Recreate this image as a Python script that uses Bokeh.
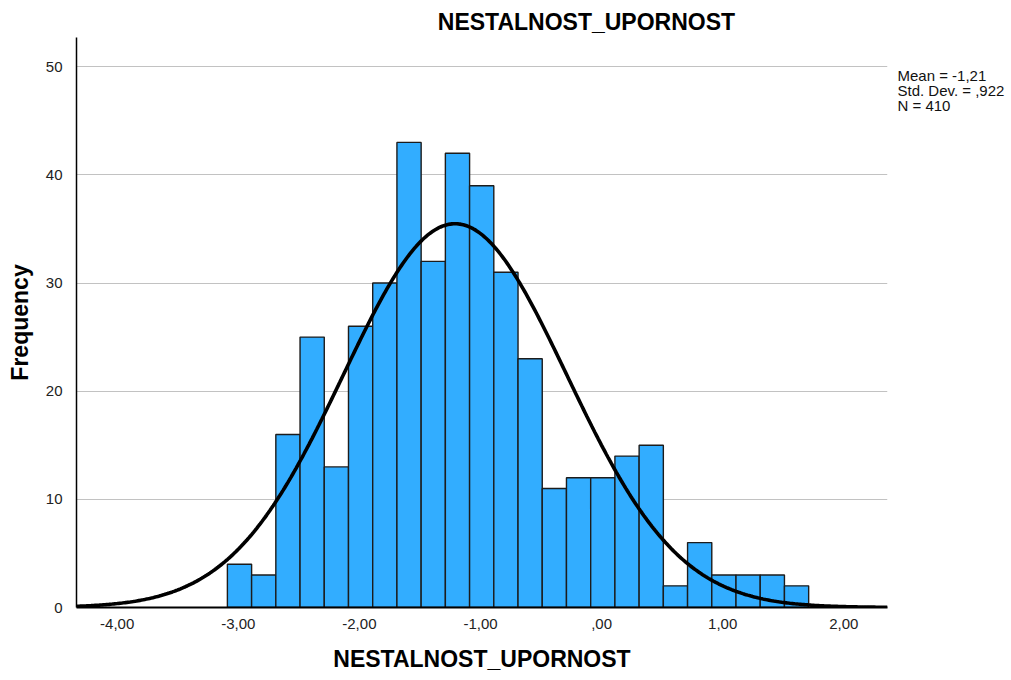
import numpy as np
from bokeh.plotting import figure
from bokeh.models import FixedTicker, Range1d, ColumnDataSource, LinearAxis
from bokeh.embed import file_html
from bokeh.resources import INLINE

# ---- data ----
title_text = "NESTALNOST_UPORNOST"
x_label = "NESTALNOST_UPORNOST"
y_label = "Frequency"
bin_left = [-3.09, -2.89, -2.69, -2.49, -2.29, -2.09, -1.89, -1.69, -1.49, -1.29,
            -1.09, -0.89, -0.69, -0.49, -0.29, -0.09, 0.11, 0.31, 0.51, 0.71,
            0.91, 1.11, 1.31, 1.51]
bin_width = 0.2
counts = [4, 3, 16, 25, 13, 26, 30, 43, 32, 42, 39, 31, 23, 11, 12, 12, 14, 15,
          2, 6, 3, 3, 3, 2]
mean = -1.21
std_dev = 0.922
n_total = 410
stats_lines = ["Mean = -1,21", "Std. Dev. = ,922", "N = 410"]
x_ticks = [-4, -3, -2, -1, 0, 1, 2]
x_tick_labels = ["-4,00", "-3,00", "-2,00", "-1,00", ",00", "1,00", "2,00"]
y_ticks = [0, 10, 20, 30, 40, 50]

# ---- layout ----
X0, X1 = -4.336, 2.361
Y0, Y1 = 0, 52.7
FONT = "Liberation Sans"
TITLE_X = -0.125                      # horizontal centre of the title (data units)
STATS_Y = [49.17, 47.78, 46.40]       # vertical centres of the statistics rows

p = figure(width=1011, height=680, output_backend="svg", toolbar_location=None,
           x_range=Range1d(X0, X1), y_range=Range1d(Y0, Y1),
           min_border_left=76, min_border_right=124, min_border_top=37,
           min_border_bottom=73)
p.outline_line_color = None
p.background_fill_color = "white"
p.border_fill_color = "white"

src = ColumnDataSource(dict(left=bin_left,
                            right=[b + bin_width for b in bin_left],
                            top=counts))
p.quad(left="left", right="right", top="top", bottom=0, source=src,
       fill_color="#32adff", line_color="#1c1c1c", line_width=1.4)

xs = np.linspace(X0, X1, 500)
ys = n_total * bin_width / (std_dev * np.sqrt(2 * np.pi)) * np.exp(-0.5 * ((xs - mean) / std_dev) ** 2)
p.line(xs, ys, line_color="black", line_width=3.6)

p.xgrid.grid_line_color = None
p.ygrid.grid_line_color = "#c2c2c2"
p.ygrid.grid_line_width = 1.2
p.ygrid.ticker = FixedTicker(ticks=y_ticks)

for ax in (p.xaxis[0], p.yaxis[0]):
    ax.major_tick_line_color = None
    ax.minor_tick_line_color = None
    ax.axis_line_color = "black"
    ax.major_label_text_font = FONT
    ax.major_label_text_font_size = "15px"
    ax.major_label_text_color = "#222222"
    ax.axis_label_text_font = FONT
    ax.axis_label_text_font_size = "23px"
    ax.axis_label_text_font_style = "bold"
    ax.axis_label_text_color = "black"

p.xaxis.ticker = FixedTicker(ticks=x_ticks)
p.xaxis.major_label_overrides = {float(t): l for t, l in zip(x_ticks, x_tick_labels)}
p.xaxis.axis_label = x_label
p.xaxis.axis_line_width = 2
p.xaxis.major_label_standoff = 5
p.xaxis.axis_label_standoff = 14

p.yaxis.ticker = FixedTicker(ticks=y_ticks)
p.yaxis.axis_label = y_label
p.yaxis.axis_line_width = 1.5
p.yaxis.major_label_standoff = 8
p.yaxis.axis_label_standoff = 10

# chart title, drawn as the single label of an undecorated axis above the frame
title_axis = LinearAxis(ticker=FixedTicker(ticks=[TITLE_X]),
                        major_label_overrides={TITLE_X: title_text},
                        axis_line_color=None, major_tick_line_color=None,
                        minor_tick_line_color=None, major_label_standoff=-3,
                        major_label_text_font=FONT,
                        major_label_text_font_size="23px",
                        major_label_text_font_style="bold",
                        major_label_text_color="black")
p.add_layout(title_axis, "above")

# statistics box, drawn as labels of an undecorated axis right of the frame
stats_axis = LinearAxis(ticker=FixedTicker(ticks=STATS_Y),
                        major_label_overrides={y: s for y, s in zip(STATS_Y, stats_lines)},
                        axis_line_color=None, major_tick_line_color=None,
                        minor_tick_line_color=None, major_label_standoff=4,
                        major_label_text_font=FONT,
                        major_label_text_font_size="15px",
                        major_label_text_color="#111111")
p.add_layout(stats_axis, "right")

open("out.html", "w").write(file_html(p, INLINE))
